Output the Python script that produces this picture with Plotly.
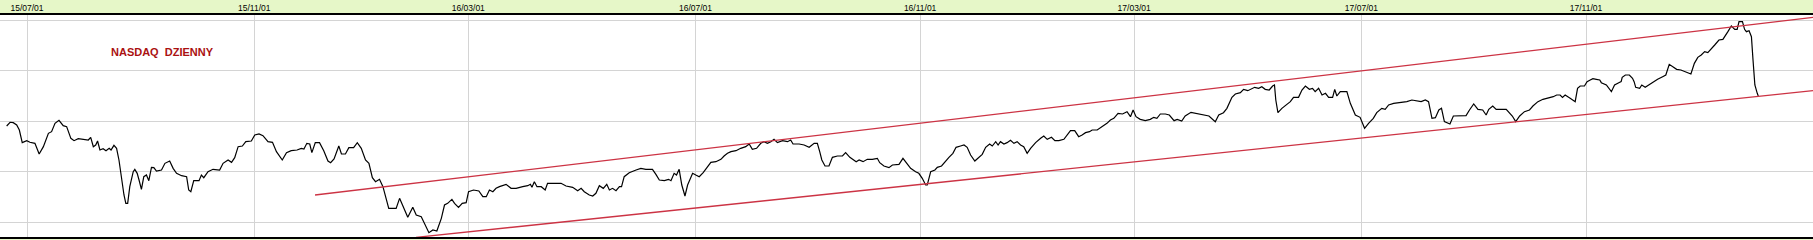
import plotly.graph_objects as go

# trading-day index (0 = 2015-06-19) and index level
day = [0.3,1.6,2.8,4.1,5.1,6.2,7.9,9.1,11.0,12.6,14.2,16.1,17.3,18.6,20.1,21.7,23.0,24.6,25.8,27.4,
       31.2,32.1,33.1,34.0,34.7,35.6,36.8,37.9,39.1,39.8,40.9,41.9,42.8,43.8,44.7,45.4,46.1,46.9,48.2,48.8,
       49.7,50.4,51.3,52.2,53.2,54.1,55.1,56.0,57.0,58.9,60.2,62.0,63.3,64.6,66.5,68.4,69.2,70.0,71.1,73.1,
       74.0,74.9,76.5,78.4,80.9,82.2,84.1,85.4,86.6,87.9,89.5,90.8,92.9,94.2,95.8,97.3,99.2,100.9,102.4,104.6,
       106.2,108.0,110.2,111.8,112.8,113.9,115.0,115.8,117.1,118.7,120.3,121.9,122.9,124.2,125.3,126.0,127.0,128.5,129.8,131.6,
       133.0,134.5,136.1,137.4,138.7,139.9,141.4,142.7,144.9,147.7,149.0,150.5,152.1,154.0,155.3,157.2,160.1,161.6,163.1,164.8,
       166.0,167.2,168.8,169.8,171.3,172.7,174.2,175.1,177.0,179.0,180.5,181.8,183.0,184.3,185.5,186.8,189.3,191.2,193.1,195.6,
       197.5,198.5,199.1,200.0,201.0,202.6,204.1,205.0,206.3,210.1,212.0,214.5,216.4,217.7,218.9,220.8,222.1,223.3,224.6,226.1,
       227.4,228.4,229.6,230.9,232.2,233.0,234.0,235.9,238.5,240.3,242.2,244.7,246.0,247.3,249.2,250.8,251.7,252.9,253.8,254.8,
       255.8,257.0,258.0,259.9,261.1,262.4,263.9,265.5,266.8,268.7,270.6,271.8,273.1,274.4,276.3,278.1,280.0,281.3,282.5,284.1,
       285.7,286.9,288.2,289.5,290.7,292.0,293.9,295.8,297.0,297.9,300.2,302.1,304.0,305.9,307.1,308.0,308.8,310.0,311.5,312.8,
       314.7,316.6,317.8,319.4,320.6,321.8,322.9,324.4,326.0,327.9,329.8,330.7,332.3,334.2,335.5,336.7,338.0,339.5,341.1,342.4,
       344.3,345.5,346.8,348.1,348.7,350.0,351.6,352.5,354.1,355.6,356.9,358.4,359.6,361.3,362.6,363.8,365.1,366.7,368.0,369.5,
       370.8,372.3,373.3,374.6,375.5,376.4,377.7,378.9,380.2,381.5,382.7,384.0,385.2,386.5,387.8,389.7,391.6,392.8,394.1,395.7,
       397.0,398.5,400.4,401.6,402.9,404.5,406.0,407.3,408.6,410.1,411.1,413.0,414.8,416.7,418.0,419.3,420.9,422.6,424.3,425.6,
       426.6,427.7,429.3,431.2,433.1,434.4,435.6,436.9,438.8,440.3,442.1,443.3,445.0,446.3,448.5,450.7,452.8,455.3,457.7,459.0,
       460.8,462.1,464.0,465.3,467.2,468.4,470.0,471.3,472.6,474.1,475.3,476.6,478.1,479.4,480.1,480.6,481.4,482.9,484.4,486.1,
       487.3,489.2,490.5,491.8,493.3,494.5,495.5,496.8,498.1,499.4,500.6,502.1,502.9,503.7,505.0,507.5,508.8,510.7,512.5,514.2,
       515.7,517.5,518.8,520.7,522.0,523.3,525.2,527.1,529.0,530.2,532.1,534.0,535.6,537.2,538.4,539.7,541.0,542.3,543.3,544.4,
       545.6,546.5,547.8,550.1,552.6,553.9,555.5,557.1,558.9,560.2,561.2,562.7,564.0,567.8,569.1,570.1,571.4,572.9,574.7,576.6,
       577.9,579.8,581.7,583.7,585.6,586.9,588.2,589.1,590.1,592.0,593.3,593.9,594.8,595.8,597.4,598.4,599.6,600.6,601.9,603.2,
       603.8,605.7,607.6,608.8,610.4,611.3,611.7,612.9,614.4,615.6,616.2,616.8,618.3,619.1,620.4,621.7,623.2,624.5,625.1,627.0,
       628.2,629.5,631.0,632.3,633.9,635.8,637.7,639.0,640.3,641.6,642.9,644.1,645.4,646.7,648.3,649.8,651.7,653.0,654.3,655.2,
       655.9,657.2,658.0,658.7,659.7,660.6,661.2,661.9,662.8,663.2]
level = [5940,5996,5990,5955,5880,5690,5720,5696,5680,5520,5630,5830,5855,5980,6025,5945,5930,5755,5720,5750,
         5730,5770,5630,5655,5715,5580,5600,5570,5605,5580,5650,5605,5430,5130,4905,4780,4780,5030,5255,5290,
         5230,5130,4990,5180,5205,5120,5320,5315,5265,5280,5380,5415,5305,5230,5195,5180,4980,4955,5120,5120,
         5205,5165,5255,5290,5280,5380,5430,5395,5465,5630,5640,5705,5715,5805,5820,5795,5705,5695,5555,5430,
         5540,5570,5580,5605,5595,5680,5670,5540,5690,5690,5570,5415,5390,5445,5570,5640,5520,5520,5615,5615,
         5690,5605,5430,5380,5165,5105,5140,5030,4705,4705,4855,4720,4570,4720,4605,4580,4340,4380,4365,4555,
         4755,4780,4840,4780,4720,4780,4790,4955,4980,4965,4880,4880,4980,4955,5005,5030,5065,5005,5005,5030,
         5045,5065,5020,5105,5030,5030,4980,5080,5080,5080,5040,5020,4970,5005,4955,4905,4890,4930,5045,5005,
         5065,4980,5005,4970,5030,5030,5180,5240,5280,5305,5290,5290,5215,5130,5120,5140,5120,5230,5205,5290,
         5055,4890,5055,5230,5205,5180,5240,5330,5395,5405,5440,5490,5530,5555,5570,5605,5630,5670,5590,5605,
         5680,5705,5680,5705,5740,5690,5720,5705,5730,5670,5670,5655,5620,5680,5680,5555,5430,5340,5340,5470,
         5490,5490,5540,5470,5440,5405,5430,5405,5440,5440,5455,5390,5340,5315,5355,5365,5365,5455,5380,5305,
         5255,5230,5155,5055,5055,5255,5280,5320,5340,5415,5470,5530,5620,5640,5655,5620,5505,5415,5455,5515,
         5620,5670,5640,5705,5655,5705,5670,5690,5725,5680,5705,5655,5630,5530,5605,5690,5755,5790,5740,5770,
         5720,5720,5740,5805,5870,5870,5780,5805,5840,5855,5880,5880,5930,5980,6030,6055,6130,6120,6155,6080,
         6180,6080,6040,6020,6040,6070,6055,6120,6120,6105,6020,6040,6015,6090,6145,6130,6115,6090,6005,6105,
         6140,6205,6370,6420,6440,6490,6470,6490,6520,6505,6530,6490,6480,6540,6555,6330,6140,6205,6255,6305,
         6370,6370,6480,6540,6490,6505,6455,6505,6405,6430,6370,6370,6490,6390,6455,6455,6280,6105,6070,5905,
         5980,6055,6140,6205,6190,6255,6280,6290,6290,6305,6330,6320,6305,6330,6305,6055,6065,6180,6205,6005,
         5990,5970,6090,6095,6095,6180,6270,6190,6180,6105,6190,6240,6190,6190,6130,6090,6005,6090,6155,6180,
         6240,6305,6340,6355,6380,6405,6405,6370,6405,6355,6320,6305,6505,6540,6540,6605,6630,6650,6640,6630,
         6590,6555,6455,6555,6590,6605,6670,6705,6705,6655,6605,6520,6505,6555,6520,6555,6590,6630,6640,6680,
         6705,6865,6830,6790,6780,6755,6720,6880,6970,7005,7055,7040,7090,7155,7230,7240,7355,7440,7390,7390,
         7505,7505,7390,7355,7370,7280,6930,6555,6430,6390]

# channel lines (start / end points)
upper_day = [117.0, 683.9]
upper_level = [4905, 7570]
lower_day = [155.2, 683.9]
lower_level = [4270, 6470]

# month ticks (first trading day of the month)
tick_days = [8, 94, 175, 261, 346, 427, 513, 598]
tick_labels = ["15/07/01", "15/11/01", "16/03/01", "16/07/01", "16/11/01", "17/03/01", "17/07/01", "17/11/01"]
grid_levels = [4500, 5256, 6012, 6768, 7524]

fig = go.Figure()
fig.add_trace(go.Scatter(x=day, y=level, mode="lines",
                         line=dict(color="black", width=1.2), hoverinfo="skip"))
fig.add_trace(go.Scatter(x=upper_day, y=upper_level, mode="lines",
                         line=dict(color="#CC3344", width=1.4), hoverinfo="skip"))
fig.add_trace(go.Scatter(x=lower_day, y=lower_level, mode="lines",
                         line=dict(color="#CC3344", width=1.4), hoverinfo="skip"))

fig.add_annotation(text="<b>NASDAQ  DZIENNY</b>", xref="paper", yref="paper",
                   x=0.0896, y=0.833, xanchor="center", yanchor="middle", showarrow=False,
                   font=dict(family="Liberation Sans", size=11, color="#AA1111"))

fig.update_layout(
    width=1813, height=240,
    margin=dict(l=0, r=0, t=15, b=3),
    paper_bgcolor="#E6F7C8", plot_bgcolor="white",
    showlegend=False,
    xaxis=dict(side="top", range=[-2.22, 683.9], tickmode="array",
               tickvals=tick_days, ticktext=tick_labels,
               showgrid=True, gridcolor="#D4D4D4", gridwidth=1,
               showline=True, linecolor="black", linewidth=1.8, mirror=True,
               ticks="", zeroline=False, ticklabelstandoff=-1,
               tickfont=dict(family="Liberation Sans", size=8.5, color="black")),
    yaxis=dict(range=[4275, 7605], tickmode="array", tickvals=grid_levels,
               showticklabels=False, showgrid=True, gridcolor="#D4D4D4", gridwidth=1,
               zeroline=False, showline=False, ticks=""),
)

fig.write_html("out.html")
